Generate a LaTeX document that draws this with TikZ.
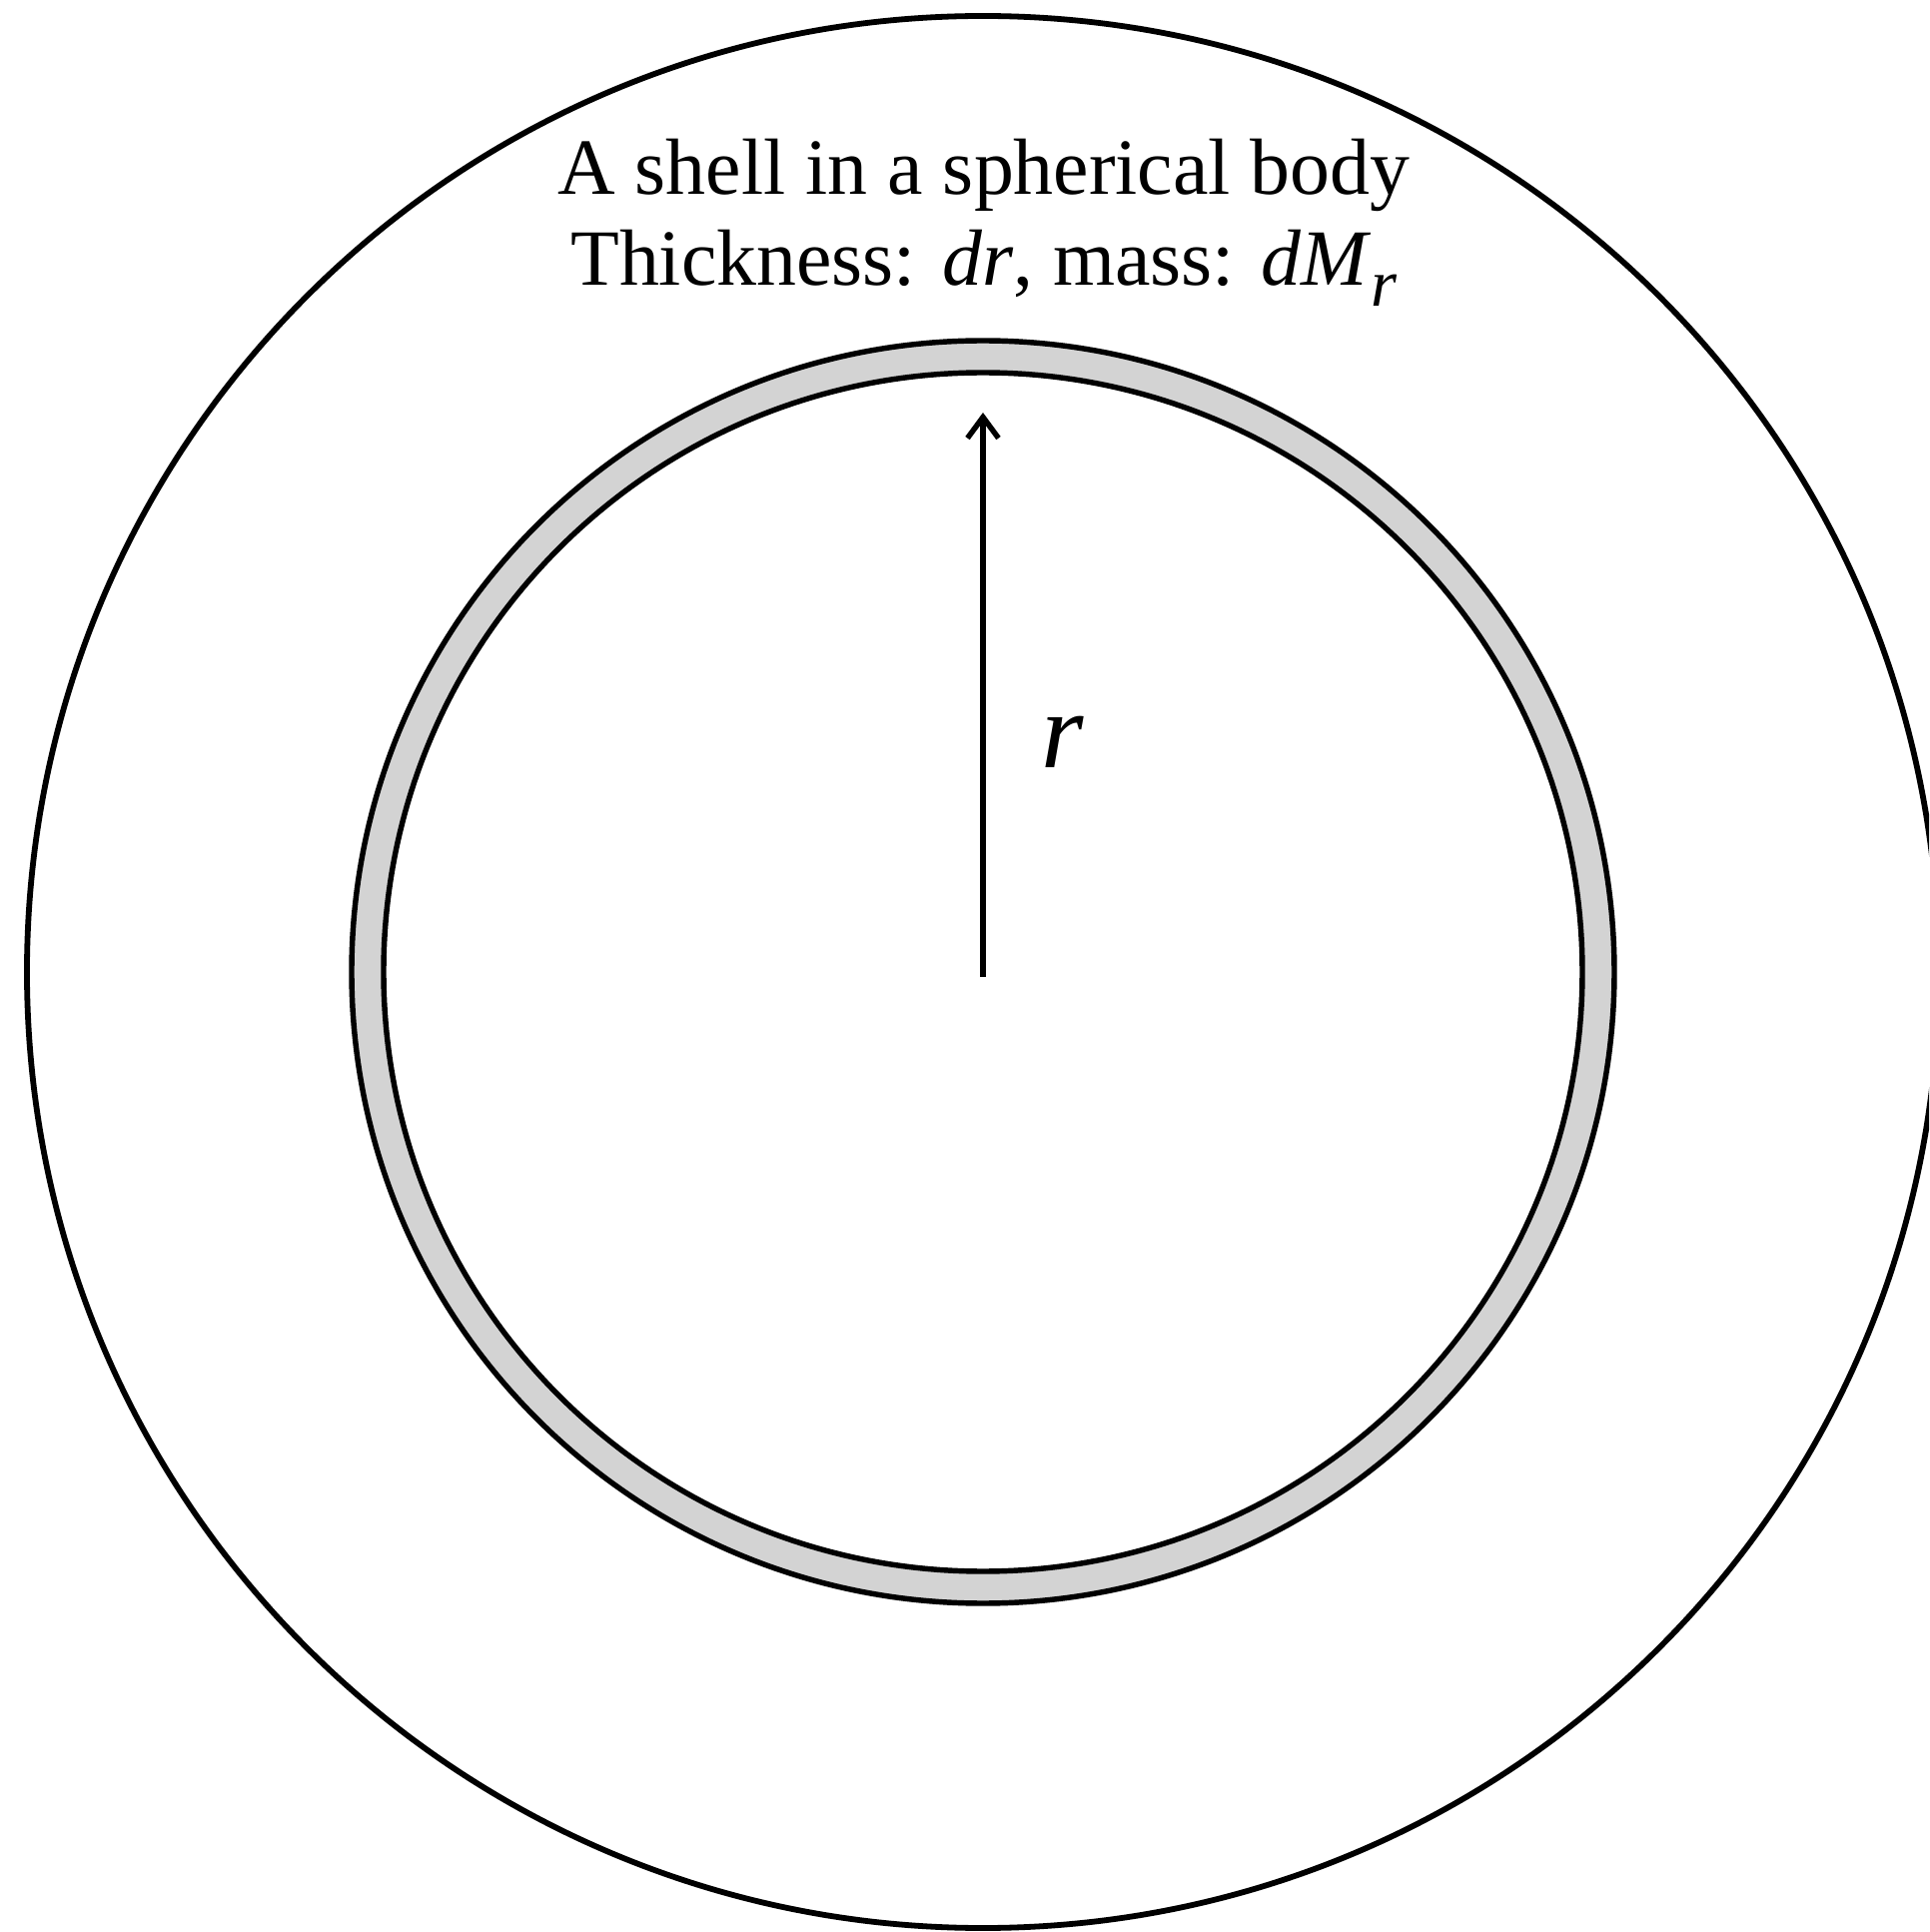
\documentclass[tikz,border=0pt]{standalone}
\usepackage{fontspec}
\setmainfont{Liberation Serif}
\usepackage{xcolor}
\usetikzlibrary{arrows.meta,positioning}
\definecolor{shellgray}{RGB}{211, 211, 211}

\begin{document}
\begin{tikzpicture}[>={Straight Barb[length=0.42cm,width=0.62cm]}]
    \useasboundingbox (-19.68,-19.22) rectangle (18.94,19.46);
    \clip (-19.68,-19.22) rectangle (18.94,19.46);

    % Spherical body
    \draw[line width=3.3pt] (0,0) circle (19.14);

    % Shell of thickness dr
    \filldraw[fill=shellgray, line width=3.1pt, even odd rule] (0,0) circle (12.64) (0,0) circle (12.0);

    % Radius r
    \coordinate (O) at (0,-0.1);
    \coordinate (R) at (0,11.2);
    \draw[->, line width=3.1pt] (O) -- (R);
    \node[font=\fontsize{62}{62}\selectfont\itshape] (rlabel) at (1.6,4.6) {r};

    % Caption
    \node[anchor=base, align=center, font=\fontsize{45.4}{52}\selectfont] (caption) at (0.02,13.74)
        {A shell in a spherical body\\
         Thickness: \textit{dr}, mass: \textit{dM}{\fontsize{38}{38}\selectfont\raisebox{-0.3em}{\itshape r}}};
\end{tikzpicture}
\end{document}
